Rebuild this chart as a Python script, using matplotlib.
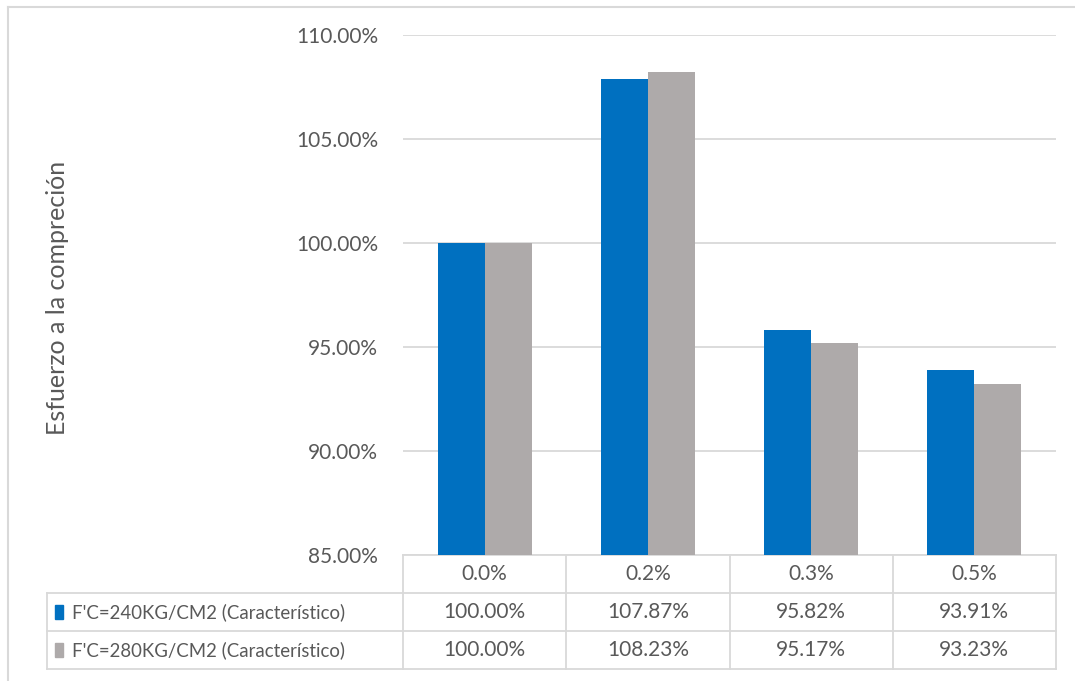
import matplotlib.pyplot as plt
from matplotlib.patches import Rectangle
from matplotlib.lines import Line2D
from matplotlib.ticker import FuncFormatter
import numpy as np

plt.rcParams['font.family'] = ['Lato', 'DejaVu Sans']

# Data
categories = ['0.0%', '0.2%', '0.3%', '0.5%']
series_names = ['F\'C=240KG/CM2 (Característico)', 'F\'C=280KG/CM2 (Característico)']
fc240 = [100.00, 107.87, 95.82, 93.91]
fc280 = [100.00, 108.23, 95.17, 93.23]
colors = ['#0070C0', '#AEAAAA']

text_color = '#595959'
grid_color = '#D9D9D9'
fs = 15

fig = plt.figure(figsize=(10.75, 6.81), dpi=100)
ax = fig.add_axes([403 / 1075, 1 - 555 / 681, 653 / 1075, 520 / 681])

x = np.arange(len(categories))
w = 0.288
ax.bar(x - w / 2, fc240, w, color=colors[0], zorder=3)
ax.bar(x + w / 2, fc280, w, color=colors[1], zorder=3)

ax.set_xlim(-0.5, len(categories) - 0.5)
ax.set_ylim(85, 110)
ax.set_yticks(np.arange(85, 111, 5))
ax.yaxis.set_major_formatter(FuncFormatter(lambda v, p: f'{v:.2f}%'))
ax.tick_params(axis='y', length=0, pad=18, labelsize=fs, labelcolor=text_color)
ax.set_xticks([])
ax.grid(axis='y', color=grid_color, linewidth=1.3, zorder=0)
for s in ax.spines.values():
    s.set_visible(False)

fig.text(58 / 1075, 1 - 298 / 681, 'Esfuerzo a la compreción', rotation=90,
         ha='center', va='center', fontsize=18, color=text_color)

# Data table under the axes
trans = ax.get_xaxis_transform()
row_y = [0.0, -0.0731, -0.146, -0.219]
label_left = (47 - 403) / 653
lw = 1.3

# header row: category boundaries only
for i in range(len(categories) + 1):
    ax.add_line(Line2D([i - 0.5, i - 0.5], [row_y[0], row_y[3]], transform=trans,
                       color=grid_color, lw=lw, clip_on=False))
ax.add_line(Line2D([-0.5, len(categories) - 0.5], [row_y[0], row_y[0]], transform=trans,
                   color=grid_color, lw=lw, clip_on=False))
for yy in row_y[1:]:
    ax.add_line(Line2D([label_left, 1], [yy, yy], transform=ax.transAxes,
                       color=grid_color, lw=lw, clip_on=False))
ax.add_line(Line2D([label_left, label_left], [row_y[1], row_y[3]], transform=ax.transAxes,
                   color=grid_color, lw=lw, clip_on=False))

for i, c in enumerate(categories):
    ax.text(i, (row_y[0] + row_y[1]) / 2, c, transform=trans, ha='center', va='center',
            fontsize=fs, color=text_color)
for r, vals in enumerate([fc240, fc280]):
    yc = (row_y[r + 1] + row_y[r + 2]) / 2
    for i, v in enumerate(vals):
        ax.text(i, yc, f'{v:.2f}%', transform=trans, ha='center', va='center',
                fontsize=fs, color=text_color)
    ax.add_patch(Rectangle((label_left + 8 / 653, yc - 6.8 / 520), 7.7 / 653, 13.6 / 520,
                           transform=ax.transAxes, color=colors[r], clip_on=False))
    ax.text(label_left + 25 / 653, yc, series_names[r], transform=ax.transAxes,
            ha='left', va='center', fontsize=13.4, color=text_color)

# chart frame
fig.add_artist(Line2D([8 / 1075, 1], [1 - 6.5 / 681, 1 - 6.5 / 681], color=grid_color, lw=1.5))
fig.add_artist(Line2D([8 / 1075, 8 / 1075], [0, 1 - 6.5 / 681], color=grid_color, lw=1.5))

fig.savefig('out.png', dpi=100)
